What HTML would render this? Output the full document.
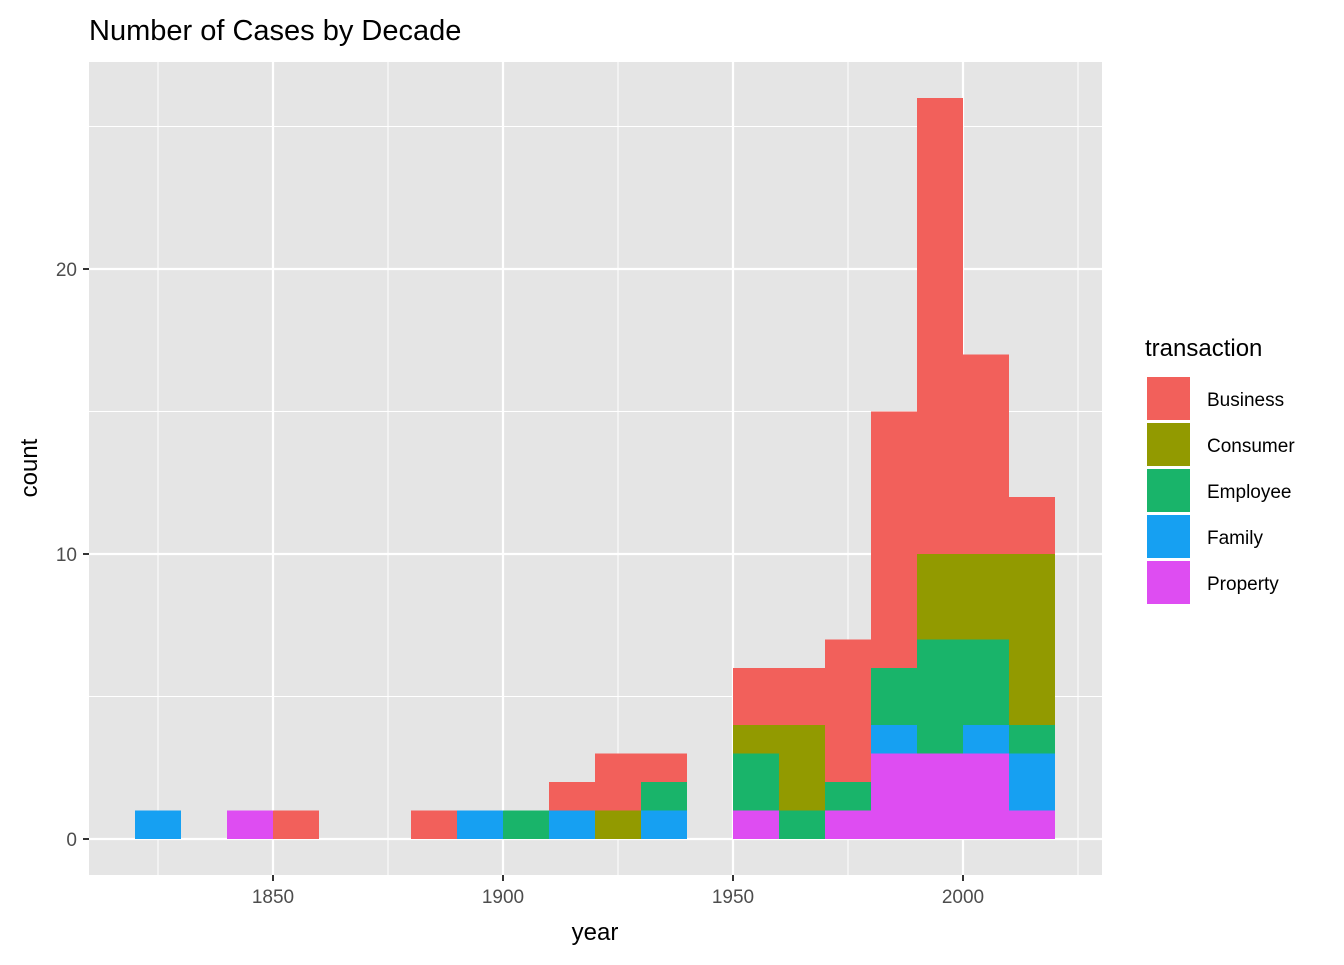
<!DOCTYPE html>
<html><head><meta charset="utf-8"><style>
body{margin:0;background:#fff;font-family:"Liberation Sans",Arial,sans-serif;}
</style></head><body>
<svg id="chart" width="1344" height="960" xmlns="http://www.w3.org/2000/svg">
<text x="89" y="40" font-size="29" fill="#000">Number of Cases by Decade</text>
<rect x="89" y="62" width="1013" height="813" fill="#e5e5e5"/>
<g id="grid"></g>
<g id="bars"></g>
<g id="axes"></g>
<text x="595" y="940" font-size="24" text-anchor="middle">year</text>
<text transform="translate(37,468) rotate(-90)" font-size="24" text-anchor="middle">count</text>
<text x="1145" y="356" font-size="24">transaction</text>
<g id="legend"></g>
</svg>
<script>
const categories = ["Property","Family","Employee","Consumer","Business"];
const colors = ["#DE4DF2","#16A0F2","#19B46A","#929A00","#F2605B"];
const binStarts = [1820,1840,1850,1880,1890,1900,1910,1920,1930,1950,1960,1970,1980,1990,2000,2010];
const property = [0,1,0,0,0,0,0,0,0,1,0,1,3,3,3,1];
const family   = [1,0,0,0,1,0,1,0,1,0,0,0,1,0,1,2];
const employee = [0,0,0,0,0,1,0,0,1,2,1,1,2,4,3,1];
const consumer = [0,0,0,0,0,0,0,1,0,1,3,0,0,3,3,6];
const business = [0,0,1,1,0,0,1,2,1,2,2,5,9,16,7,2];
const xTicks = [1850,1900,1950,2000];
const yTicks = [0,10,20];
const series = [property,family,employee,consumer,business];
const binWidth = 10;
const ns="http://www.w3.org/2000/svg";
const X = v => 503 + (v-1900)*4.6;
const Y = v => 839 - v*28.5;
function mk(tag,attrs,parent){const e=document.createElementNS(ns,tag);for(const k in attrs)e.setAttribute(k,attrs[k]);parent.appendChild(e);return e;}
const grid=document.getElementById('grid'), bars=document.getElementById('bars'), axes=document.getElementById('axes'), legend=document.getElementById('legend');
for(let v=5;v<=25;v+=10){const l=mk('line',{x1:89,x2:1102,y1:Y(v),y2:Y(v),stroke:'#fff','stroke-width':1},grid);}
for(let v=1825;v<=2025;v+=50){const l=mk('line',{x1:X(v),x2:X(v),y1:62,y2:875,stroke:'#fff','stroke-width':1},grid);}
yTicks.forEach(t=>{const l=mk('line',{x1:89,x2:1102,y1:Y(t),y2:Y(t),stroke:'#fff','stroke-width':2.2},grid);
 const tk=mk('line',{x1:83,x2:89,y1:Y(t),y2:Y(t),stroke:'#333','stroke-width':2},axes);
 const tx=mk('text',{x:77,y:Y(t)+7,'font-size':19,fill:'#4d4d4d','text-anchor':'end'},axes);tx.textContent=t;});
xTicks.forEach(t=>{const l=mk('line',{x1:X(t),x2:X(t),y1:62,y2:875,stroke:'#fff','stroke-width':2.2},grid);
 const tk=mk('line',{x1:X(t),x2:X(t),y1:875,y2:881,stroke:'#333','stroke-width':2},axes);
 const tx=mk('text',{x:X(t),y:903,'font-size':19,fill:'#4d4d4d','text-anchor':'middle'},axes);tx.textContent=t;});
binStarts.forEach((b,i)=>{let base=0;series.forEach((s,j)=>{const v=s[i];if(v>0){const r=mk('rect',{x:X(b),y:Y(base+v),width:X(b+binWidth)-X(b),height:Y(base)-Y(base+v),fill:colors[j]},bars);}base+=v;});});
const order=[4,3,2,1,0];
order.forEach((j,k)=>{const y=377+k*46;
 const r=mk('rect',{x:1147,y:y,width:43,height:43,fill:colors[j]},legend);
 const t=mk('text',{x:1207,y:y+29,'font-size':19,fill:'#000'},legend);t.textContent=categories[j];});
</script>
</body></html>
